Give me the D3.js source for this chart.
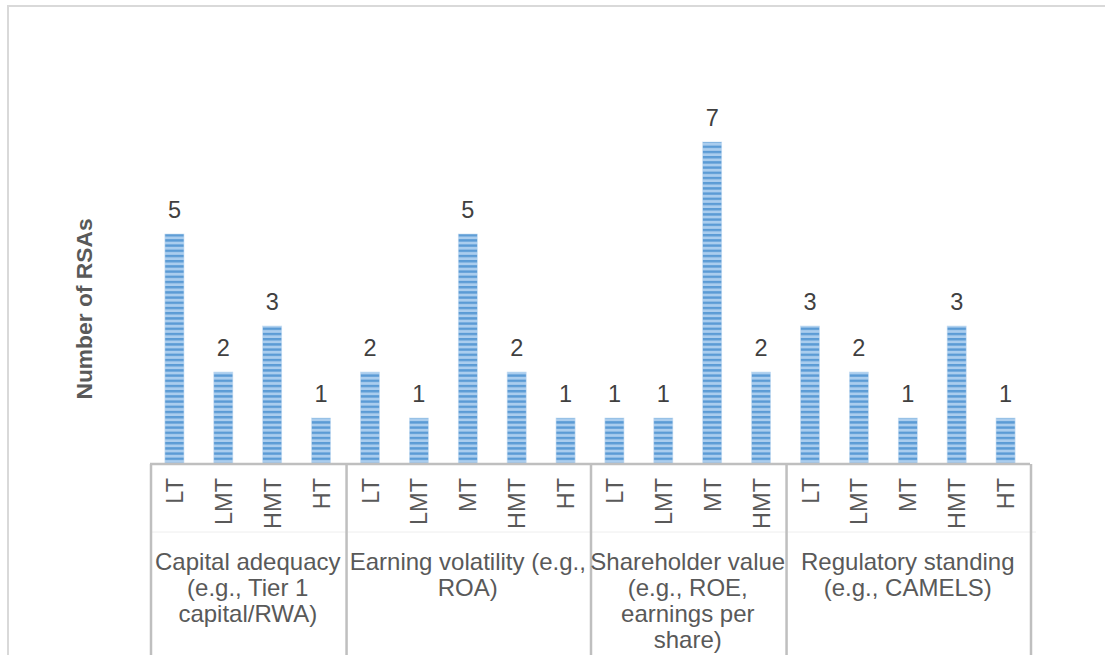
<!DOCTYPE html>
<html>
<head>
<meta charset="utf-8">
<script src="https://cdn.jsdelivr.net/npm/d3@7"></script>
<style>
  html, body { margin: 0; padding: 0; background: #fff; }
  svg { display: block; }
</style>
</head>
<body>
<svg id="chart" width="1105" height="655"></svg>
<script>
// Ratings per tolerance level, grouped by performance measure
const groups = [
  "Capital adequacy (e.g., Tier 1 capital/RWA)",
  "Earning volatility (e.g., ROA)",
  "Shareholder value (e.g., ROE, earnings per share)",
  "Regulatory standing (e.g., CAMELS)"
];
const groupLines = [
  ["Capital adequacy", "(e.g., Tier 1", "capital/RWA)"],
  ["Earning volatility (e.g.,", "ROA)"],
  ["Shareholder value", "(e.g., ROE,", "earnings per", "share)"],
  ["Regulatory standing", "(e.g., CAMELS)"]
];
const levels = [
  ["LT", "LMT", "HMT", "HT"],
  ["LT", "LMT", "MT", "HMT", "HT"],
  ["LT", "LMT", "MT", "HMT"],
  ["LT", "LMT", "MT", "HMT", "HT"]
];
const counts = [
  [5, 2, 3, 1],
  [2, 1, 5, 2, 1],
  [1, 1, 7, 2],
  [3, 2, 1, 3, 1]
];
const yTitle = "Number of RSAs";

// Flatten into one row per bar
const rows = [];
groups.forEach((g, gi) => {
  levels[gi].forEach((lv, li) => {
    rows.push({ id: gi + "-" + li, group: gi, level: lv, value: counts[gi][li] });
  });
});

const svg = d3.select("#chart");
const font = "'Liberation Sans', Arial, sans-serif";
const left = 150, right = 1030, base = 464;

const x = d3.scaleBand().domain(rows.map(d => d.id)).range([left, right]).padding(0);
const y = d3.scaleLinear().domain([0, 9]).range([base, 50]);
const barW = x.bandwidth() * 0.39;

// Striped bar fill
const defs = svg.append("defs");
const pat = defs.append("pattern")
  .attr("id", "stripes").attr("patternUnits", "userSpaceOnUse")
  .attr("width", 10).attr("height", 5.2);
pat.append("rect").attr("width", 10).attr("height", 5.2).attr("fill", "#aacdee");
pat.append("rect").attr("y", 0).attr("width", 10).attr("height", 2.4).attr("fill", "#5b9bd5");

// Outer chart frame
svg.append("rect")
  .attr("x", 8).attr("y", 6).attr("width", 1200).attr("height", 800)
  .attr("fill", "none").attr("stroke", "#d9d9d9").attr("stroke-width", 2);

// Bars
svg.append("g").selectAll("rect").data(rows).join("rect")
  .attr("x", d => x(d.id) + (x.bandwidth() - barW) / 2)
  .attr("y", d => y(d.value))
  .attr("width", barW)
  .attr("height", d => y(0) - y(d.value))
  .attr("fill", "url(#stripes)")
  .attr("stroke", "#c5dcf2").attr("stroke-width", 0.6);

// Value labels
svg.append("g").selectAll("text").data(rows).join("text")
  .attr("x", d => x(d.id) + x.bandwidth() / 2)
  .attr("y", d => y(d.value) - 16)
  .attr("text-anchor", "middle")
  .attr("font-family", font).attr("font-size", 23.5)
  .attr("fill", "#404040")
  .text(d => d.value);

// Faint divider between level and group label rows
svg.append("line")
  .attr("x1", left).attr("x2", right + 6).attr("y1", 532).attr("y2", 532)
  .attr("stroke", "#eeeeee").attr("stroke-width", 1);

// Category axis line
svg.append("line")
  .attr("x1", left).attr("x2", right).attr("y1", base).attr("y2", base)
  .attr("stroke", "#bfbfbf").attr("stroke-width", 2.5);

// Group separators
const groupStart = groups.map((g, gi) => x(rows.find(r => r.group === gi).id));
const bounds = groupStart.concat([right]);
svg.append("g").selectAll("line").data(bounds).join("line")
  .attr("x1", d => d + 1).attr("x2", d => d + 1)
  .attr("y1", base).attr("y2", 660)
  .attr("stroke", "#bfbfbf").attr("stroke-width", 2.5);

// Level labels (rotated)
svg.append("g").selectAll("text").data(rows).join("text")
  .attr("transform", d => `translate(${x(d.id) + x.bandwidth() / 2 + 8.5},478) rotate(-90)`)
  .attr("text-anchor", "end")
  .attr("font-family", font).attr("font-size", 23.5)
  .attr("fill", "#595959")
  .text(d => d.level);

// Group labels
groupLines.forEach((lines, gi) => {
  const cx = (bounds[gi] + bounds[gi + 1]) / 2;
  const t = svg.append("text")
    .attr("text-anchor", "middle")
    .attr("font-family", font).attr("font-size", 24)
    .attr("fill", "#595959");
  lines.forEach((ln, i) => {
    t.append("tspan").attr("x", cx).attr("y", 570 + i * 26).text(ln);
  });
});

// Y axis title
svg.append("text")
  .attr("transform", "translate(92,309) rotate(-90)")
  .attr("text-anchor", "middle")
  .attr("font-family", font).attr("font-size", 22.8).attr("font-weight", "bold")
  .attr("fill", "#595959")
  .text(yTitle);
</script>
</body>
</html>
